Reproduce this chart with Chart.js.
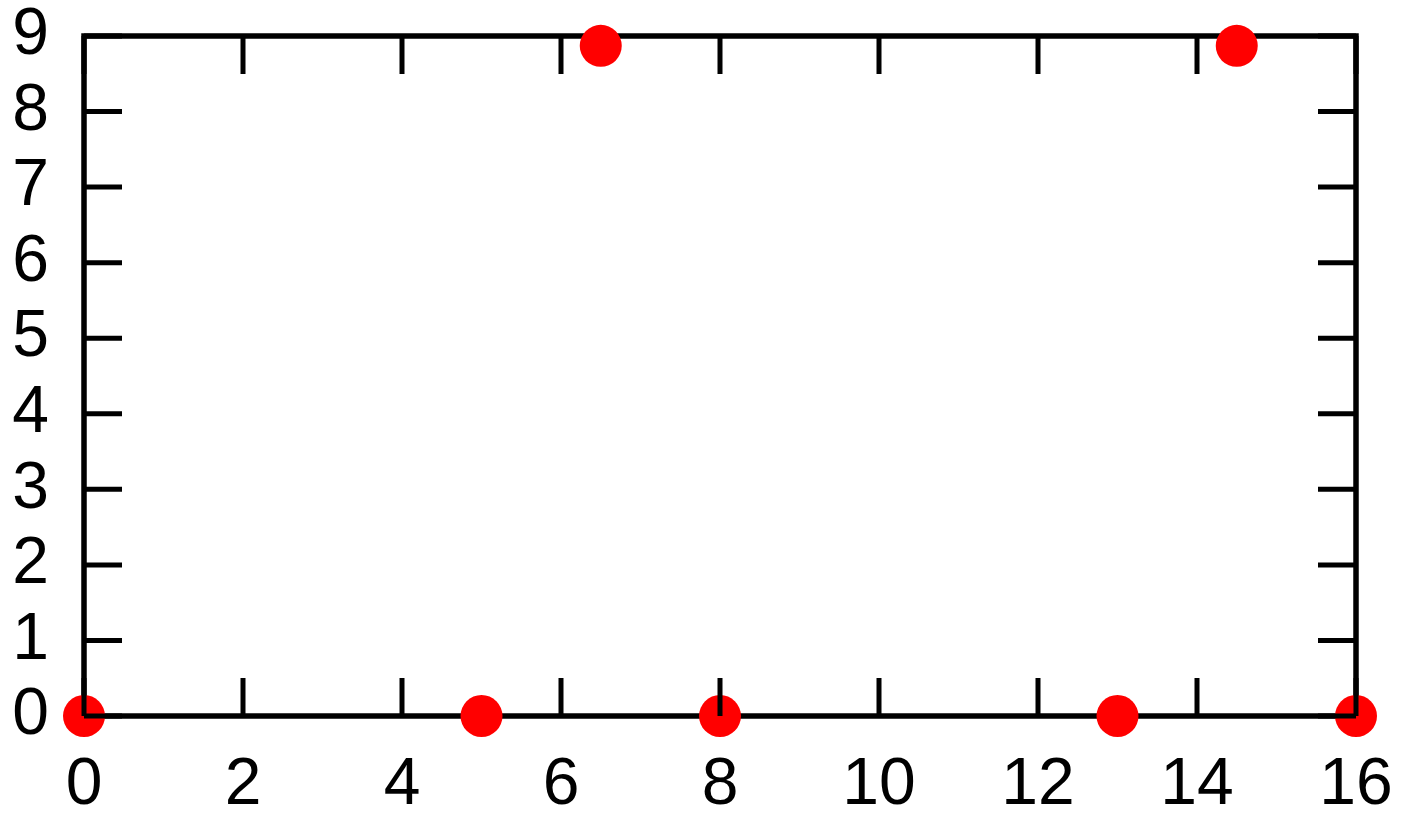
<!DOCTYPE html>
<html>
<head>
<meta charset="utf-8">
<script src="https://cdn.jsdelivr.net/npm/chart.js@4"></script>
<style>
  html, body { margin: 0; padding: 0; background: #fff; }
  canvas { display: block; }
</style>
</head>
<body>
<canvas id="myChart" width="1404" height="822"></canvas>
<script>
  'use strict'

  // points
  const xValues = [0, 5, 6.5, 8, 13, 14.5, 16]
  const yValues = [0, 0, 8.87, 0, 0, 8.87, 0]

  const xMin = 0, xMax = 16, xStep = 2
  const yMin = 0, yMax = 9, yStep = 1

  const points = xValues.map((x, i) => ({ x: x, y: yValues[i] }))

  // gnuplot-ish box: border under the points, inward ticks on top of them
  const frame = {
    id: 'frame',
    beforeDatasetsDraw(chart) {
      const { ctx, chartArea: a } = chart
      ctx.save()
      ctx.strokeStyle = '#000'
      ctx.lineWidth = 5.5
      ctx.lineJoin = 'miter'
      ctx.strokeRect(a.left, a.top, a.right - a.left, a.bottom - a.top)
      ctx.restore()
    },
    afterDatasetsDraw(chart) {
      const { ctx, chartArea: a, scales } = chart
      const len = 38
      ctx.save()
      ctx.strokeStyle = '#000'
      ctx.lineWidth = 5
      ctx.beginPath()
      scales.x.ticks.forEach(t => {
        const px = scales.x.getPixelForValue(t.value)
        ctx.moveTo(px, a.bottom); ctx.lineTo(px, a.bottom - len)
        ctx.moveTo(px, a.top); ctx.lineTo(px, a.top + len)
      })
      scales.y.ticks.forEach(t => {
        const py = scales.y.getPixelForValue(t.value)
        ctx.moveTo(a.left, py); ctx.lineTo(a.left + len, py)
        ctx.moveTo(a.right, py); ctx.lineTo(a.right - len, py)
      })
      ctx.stroke()
      ctx.restore()
    }
  }

  const ctx = document.getElementById('myChart')
  // eslint-disable-next-line no-unused-vars
  const myChart = new Chart(ctx, {
    type: 'scatter',
    data: {
      datasets: [{
        data: points,
        clip: false,
        pointRadius: 21,
        pointHoverRadius: 21,
        pointBorderWidth: 0,
        backgroundColor: '#ff0000',
        borderColor: '#ff0000'
      }]
    },
    options: {
      responsive: false,
      animation: false,
      events: [],
      layout: {
        autoPadding: false,
        padding: { left: 0, top: 36, right: 48, bottom: 0 }
      },
      scales: {
        x: {
          type: 'linear',
          min: xMin,
          max: xMax,
          afterFit: s => {
            s.height = 106
            s.paddingLeft = 0
            s.paddingRight = 0
          },
          grid: { display: false, drawTicks: false },
          border: { display: false },
          ticks: {
            stepSize: xStep,
            autoSkip: false,
            padding: 30,
            color: '#000',
            maxRotation: 0,
            font: { family: '"Liberation Sans", Arial, sans-serif', size: 66 }
          }
        },
        y: {
          type: 'linear',
          min: yMin,
          max: yMax,
          afterFit: s => {
            s.width = 84
            s.paddingTop = 0
            s.paddingBottom = 0
          },
          grid: { display: false, drawTicks: false },
          border: { display: false },
          ticks: {
            stepSize: yStep,
            autoSkip: false,
            padding: 35,
            color: '#000',
            font: { family: '"Liberation Sans", Arial, sans-serif', size: 66 }
          }
        }
      },
      plugins: {
        legend: { display: false },
        tooltip: { enabled: false }
      }
    },
    plugins: [frame]
  })
</script>
</body>
</html>
